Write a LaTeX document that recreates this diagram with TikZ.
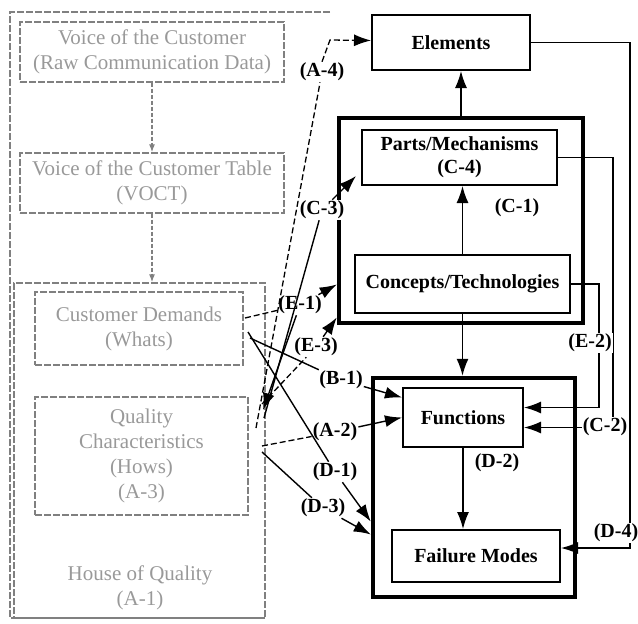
\documentclass[tikz,border=0pt]{standalone}
\usepackage{fontspec}
\setmainfont{Liberation Serif}
\usepackage{tikz}
\usetikzlibrary{arrows.meta}

\begin{document}
\begin{tikzpicture}[
        x=1pt, y=-1pt,
        box/.style={draw, rectangle, line width=2pt, align=center, inner sep=2pt, font=\fontsize{20}{23}\selectfont\bfseries},
        group/.style={draw, rectangle, line width=4.5pt},
        faded/.style={draw=black!50, dash pattern=on 7pt off 2pt, line width=1.4pt, rectangle, align=center, text=black!40, font=\fontsize{21}{25}\selectfont},
        tag/.style={fill=white, inner sep=1pt, font=\fontsize{20}{23}\selectfont\bfseries},
        link/.style={line width=1.4pt},
        dlink/.style={line width=1.3pt, dash pattern=on 6pt off 3pt},
        flink/.style={draw=black!50, line width=1.2pt, dash pattern=on 4pt off 2pt, -{Latex[length=8pt,width=6pt]}},
        >={Latex[length=17pt,width=12pt]}
    ]
        \useasboundingbox (0,0) rectangle (638,624);

        % left side (house of quality)
        \draw[black!50, line width=1.4pt, dash pattern=on 7pt off 2pt] (330,12) -- (10,12) -- (10,618) -- (265,618);
        \node[faded, minimum width=264, minimum height=60] (voc) at (152,52) {Voice of the Customer\\(Raw Communication Data)};
        \node[faded, minimum width=264, minimum height=60] (voct) at (152,183) {Voice of the Customer Table\\(VOCT)};
        \node[faded, minimum width=251, minimum height=335] (hoq) at (139.5,450.5) {};
        \node[faded, minimum width=208, minimum height=73] (cd) at (139,328.5) {Customer Demands\\(Whats)};
        \node[faded, minimum width=213, minimum height=118] (qc) at (141.5,456) {Quality\\Characteristics\\(Hows)\\(A-3)};
        \node[text=black!40, align=center, font=\fontsize{21}{25}\selectfont] (hoqtext) at (140,588) {House of Quality\\(A-1)};

        \draw[flink] (voc) -- (voct);
        \draw[flink] (voct.south) -- (voct.south |- hoq.north);

        % right side
        \node[box, minimum width=158, minimum height=55] (elem) at (451,42.5) {Elements};
        \node[group, minimum width=244, minimum height=205] (grpA) at (461,220.5) {};
        \node[box, minimum width=195, minimum height=55] (parts) at (459.5,157.5) {Parts/Mechanisms\\(C-4)};
        \node[box, minimum width=215, minimum height=58] (conc) at (462.5,284) {Concepts/Technologies};
        \node[tag] (c1) at (517,208) {(C-1)};
        \node[group, minimum width=202, minimum height=219] (grpB) at (474,487.5) {};
        \node[box, minimum width=120, minimum height=59] (func) at (463,417.5) {Functions};
        \node[box, minimum width=168, minimum height=52] (fail) at (476,556) {Failure Modes};
        \node[tag] (d2) at (497,463) {(D-2)};

        \draw[link,->] (conc.north) -- (conc.north |- parts.south);
        \draw[link,->] (grpA.north) -- (grpA.north |- elem.south);
        \draw[link,->] (conc.south) -- (conc.south |- grpB.north);
        \draw[link,->] (func.south) -- (func.south |- fail.north);

        \draw[link,->] (parts.east) -- ++(55,0) |- ([yshift=-10pt]func.east);
        \draw[link,->] (conc.east) -- ++(28,0) |- ([yshift=10pt]func.east);
        \draw[link,->] (elem.east) -- ++(99,0) |- ([yshift=8pt]fail.east);
        \node[tag] (e2) at (590,343) {(E-2)};
        \node[tag] (c2) at (605,427) {(C-2)};
        \node[tag] (d4) at (616,533) {(D-4)};

        % links out of the house of quality
        \coordinate (qA4) at (256,428);
        \coordinate (kA4) at (330,40);
        \coordinate (qC3) at (264,418);
        \coordinate (cE1) at (245,318);
        \coordinate (qE1) at (263,410);
        \coordinate (qE3) at (262,404);
        \coordinate (cB1) at (250,338);
        \coordinate (qA2) at (262,446);
        \coordinate (cD1) at (248,332);
        \coordinate (qD3) at (262,452);

        \node[tag] (a4) at (322,72) {(A-4)};
        \node[tag] (c3) at (322,210) {(C-3)};
        \node[tag] (e1) at (300,305) {(E-1)};
        \node[tag] (e3) at (316,347) {(E-3)};
        \node[tag] (b1) at (341,380) {(B-1)};
        \node[tag] (a2) at (335,432) {(A-2)};
        \node[tag] (d1) at (335,472) {(D-1)};
        \node[tag] (d3) at (323,508) {(D-3)};

        \draw[dlink] (qA4) -- (a4);
        \draw[dlink,->] (a4.north) -- (kA4) -- ([yshift=2pt]elem.west);
        \draw[link] (qC3) -- (c3);
        \draw[link,->] (c3) -- ([xshift=-5pt,yshift=10pt]parts.south west);
        \draw[dlink] (cE1) -- (e1);
        \draw[link,->] (e1) -- ([yshift=-64pt]grpA.west);
        \draw[link,->] (e1) -- (qE1);
        \draw[dlink] (qE3) -- (e3);
        \draw[link,->] (e3) -- ([yshift=-97pt]grpA.west);
        \draw[link] (cB1) -- (b1);
        \draw[link,->] (b1) -- ([yshift=20pt]func.west);
        \draw[dlink] (qA2) -- (a2);
        \draw[link,->] (a2) -- (func.west);
        \draw[link] (cD1) -- (d1);
        \draw[link,->] (d1) -- ([yshift=-34pt]grpB.west);
        \draw[link] (qD3) -- (d3);
        \draw[link,->] (d3) -- ([yshift=-47pt]grpB.west);
    \end{tikzpicture}
\end{document}
